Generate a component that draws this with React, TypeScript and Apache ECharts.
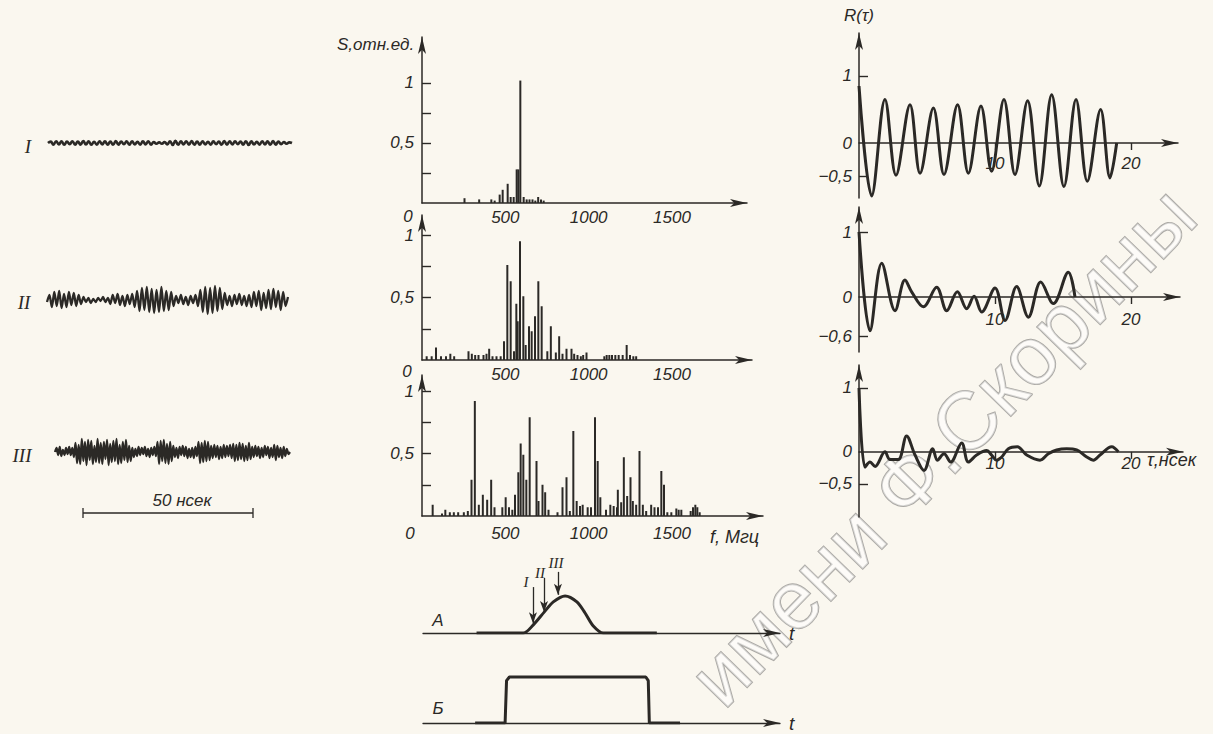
import React, { useEffect, useRef } from 'react';
import * as echarts from 'echarts';

const INK = '#2b2926';
const PAPER = '#faf7ef';
const FONT = "'Liberation Sans', 'DejaVu Sans', sans-serif";
const SERIF = "'Liberation Serif', 'DejaVu Serif', serif";

// ---- Oscillograms (left column), hand-read amplitudes ----
const traceI = [0, 0.7, -0.8, 0.9, -0.7, 0.8, -0.9, 0.7, -0.6, 0.9, -0.8, 0.7, -0.8, 1.0, -0.7, 0.8, -0.9, 0.6, -0.8, 0.9, -0.7, 0.8, -0.8, 0.7, -0.9, 1.0, -0.8, 0.7, -0.6, 0.8, -0.9, 0.9, -0.7, 0.6, -0.8, 0.8, -0.7, 0.9, -0.8, 0.5, -0.4, 0.3, -0.4, 0.5, -0.7, 0.9, -1.0, 1.1, -0.9, 0.8, -0.7, 0.9, -0.8, 1.0, -0.9, 0.7, -0.8, 0.9, -0.7, 0.6, -0.8, 0.8, -0.6, 0.7, -0.9, 1.0, -0.8, 0.9, -0.7, 0.8, -0.6, 0.7, -0.8, 0.9, -1.0, 0.8, -0.7, 0.6, -0.8, 0.9, -0.7, 0.8, -0.9, 1.0, -0.8, 0.7, -0.6, 0.5, -0.4, 0.3, 0];
const traceII = [-2, 5, -7, 8, -6, 9, -8, 6, -7, 8, -5, 7, -6, 5, -4,
  3, -2, 2, -3, 1, -2, 2, -1, 3, -2, 2,
  -4, 5, -3, 6, -5, 4, -6, 5, -4, 6, -7,
  9, -11, 12, -10, 13, -12, 11, -13, 10, -12, 13, -11, 9, -10, 8, -6,
  4, -3, 5, -4, 3, -5, 4, -3, 5, -6,
  10, -12, 13, -14, 12, -13, 14, -11, 12, -9, 7,
  -5, 4, -6, 5, -4, 6, -5, 4, -6, 5, -7,
  8, -6, 9, -10, 7, -8, 10, -9, 11, -7, 9, -10, 8, -6, 3];
const traceIII = [0, 4, -3, 5, -4, 2, -3, 4, -2, 5, -3, 4, -5,
  9, -11, 7, -12, 13, -9, 10, -13, 12, -8, 11, -12, 6, -10, 13, -11, 9, -12, 10, -7, 12, -13, 8, -10, 11, -9, 13, -12, 7, -11, 10, -8, 12, -10, 6, -9,
  4, -5, 3, -4, 5, -3, 4, -2, 5, -4, 3, -5, 4, -3, 5, -4,
  10, -12, 11, -9, 12, -11, 8, -12, 10, -9, 6,
  -5, 4, -6, 5, -3, 6, -4, 5, -6, 3, -5, 4, -6, 5, -4,
  10, -11, 9, -10, 11, -9, 10, -8, 6,
  -6, 7, -5, 6, -7, 5, -6, 7, -5, 6, -4, 7, -6,
  8, -9, 7, -8, 9, -7, 8, -9, 6, -8, 9, -7, 5,
  -5, 6, -4, 5, -6, 4, -5, 6, -3, 5, -6, 4, -5, 7, -8, 6, -5, 4, -6, 5, -4, 3, -2, 0];

// ---- Spectra (middle column): frequency, MHz / amplitude, rel. units ----
const spec1F = [255, 343, 416, 436, 466, 484, 514, 532, 550, 568, 578, 590, 610, 628, 645, 663, 680, 697, 714, 730];
const spec1S = [0.04, 0.03, 0.03, 0.02, 0.07, 0.11, 0.16, 0.05, 0.05, 0.28, 0.28, 1.02, 0.05, 0.03, 0.03, 0.03, 0.02, 0.05, 0.03, 0.02];
const spec2F = [28, 58, 84, 114, 144, 170, 193, 279, 299, 319, 339, 369, 387, 403, 423, 447, 472, 492, 512, 532, 552, 566, 574, 588, 608, 622, 642, 658, 678, 698, 718, 752, 773, 803, 823, 843, 867, 897, 913, 933, 953, 967, 987, 1094, 1108, 1124, 1140, 1160, 1180, 1204, 1228, 1248, 1268, 1285];
const spec2S = [0.03, 0.03, 0.10, 0.03, 0.03, 0.05, 0.03, 0.07, 0.05, 0.04, 0.04, 0.04, 0.05, 0.09, 0.03, 0.03, 0.03, 0.15, 0.76, 0.63, 0.07, 0.45, 0.31, 0.95, 0.51, 0.12, 0.27, 0.23, 0.35, 0.63, 0.43, 0.07, 0.27, 0.06, 0.19, 0.05, 0.09, 0.09, 0.05, 0.04, 0.03, 0.04, 0.06, 0.03, 0.04, 0.04, 0.04, 0.04, 0.04, 0.04, 0.12, 0.04, 0.03, 0.03];
const spec3F = [64, 120, 140, 167, 191, 217, 251, 275, 297, 317, 341, 365, 391, 415, 435, 482, 502, 522, 542, 558, 578, 592, 608, 626, 646, 687, 699, 723, 739, 759, 813, 843, 867, 887, 908, 928, 948, 964, 994, 1014, 1038, 1054, 1070, 1104, 1130, 1150, 1170, 1175, 1195, 1211, 1231, 1251, 1265, 1285, 1305, 1325, 1345, 1375, 1395, 1416, 1436, 1452, 1472, 1496, 1526, 1540, 1556, 1612, 1626, 1640, 1652, 1666];
const spec3S = [0.09, 0.02, 0.05, 0.03, 0.03, 0.03, 0.03, 0.04, 0.29, 0.92, 0.09, 0.17, 0.13, 0.29, 0.07, 0.07, 0.15, 0.07, 0.05, 0.17, 0.35, 0.58, 0.49, 0.29, 0.79, 0.44, 0.12, 0.25, 0.19, 0.05, 0.03, 0.23, 0.31, 0.04, 0.68, 0.12, 0.08, 0.09, 0.07, 0.07, 0.79, 0.44, 0.15, 0.05, 0.09, 0.08, 0.07, 0.21, 0.11, 0.47, 0.16, 0.31, 0.12, 0.09, 0.52, 0.09, 0.04, 0.09, 0.07, 0.07, 0.36, 0.25, 0.03, 0.03, 0.06, 0.05, 0.05, 0.04, 0.07, 0.09, 0.07, 0.03];
const specXTicks = [500, 1000, 1500];
const specYTicks = [0.25, 0.5, 0.75, 1];
const specYLabels = [0.5, 1];

// ---- Autocorrelation (right column): tau, ns / R ----
const r1Tau = [0, 0.93, 1.91, 2.72, 3.75, 4.49, 5.47, 6.25, 7.25, 8.04, 8.97, 9.75, 10.66, 11.47, 12.4, 13.26, 14.17, 15.07, 15.96, 16.79, 17.77, 18.46, 18.95];
const r1Val = [0.85, -0.79, 0.65, -0.48, 0.57, -0.45, 0.52, -0.47, 0.57, -0.45, 0.55, -0.42, 0.65, -0.47, 0.63, -0.64, 0.72, -0.65, 0.65, -0.57, 0.5, -0.52, 0.0];
const r2Tau = [0, 0.81, 1.67, 2.65, 3.38, 3.87, 4.73, 5.71, 6.45, 7.23, 7.92, 8.46, 9.02, 10.0, 10.74, 11.59, 12.45, 13.36, 14.29, 15.39, 15.88];
const r2Val = [1.0, -0.52, 0.52, -0.21, 0.26, 0.08, -0.15, 0.15, -0.21, 0.08, -0.18, 0.01, -0.23, 0.14, -0.36, 0.16, -0.31, 0.23, -0.1, 0.38, 0.0];
const r3Tau = [0, 0.44, 0.81, 1.18, 1.91, 2.28, 2.89, 3.5, 4.12, 4.78, 5.42, 5.76, 6.25, 6.74, 7.55, 8.04, 8.65, 9.39, 9.75, 10.12, 10.49, 10.98, 11.64, 12.33, 13.31, 13.92, 14.53, 15.27, 16.0, 16.74, 17.23, 17.72, 18.58, 19.07];
const r3Val = [1.0, -0.24, -0.16, -0.23, 0, -0.12, -0.12, 0.25, -0.05, -0.29, 0.05, -0.13, -0.03, -0.16, 0.14, -0.16, -0.05, 0.02, -0.05, -0.13, -0.08, 0.05, 0.08, -0.05, -0.13, -0.03, 0.03, 0.05, 0.03, -0.08, -0.13, -0.05, 0.08, 0];
const rXTicks = [10, 20];

// ---- Pulse envelopes (bottom) ----
const pulseAT = [15, 28.1, 30.9, 34.0, 36.5, 39.8, 43.1, 45.4, 47.7, 50.5, 65.5];
const pulseAV = [0, 0, 0.22, 0.57, 0.84, 1, 0.84, 0.54, 0.19, 0, 0];
const pulseBT = [14.6, 23.0, 23.4, 24.2, 62.4, 63.1, 63.4, 72.0];
const pulseBV = [0, 0, 0.92, 1, 1, 0.92, 0, 0];
const markerT = [30.8, 33.9, 37.8];
const markerTop = [1.24, 1.49, 1.65];
const markerBottom = [0.26, 0.57, 1.03];
const markerLabels = ['I', 'II', 'III'];

const zip = (a: number[], b: number[]) => a.map((v, i) => [v, b[i]]);
const comma = (v: number) => (v < 0 ? '−' : '') + String(Math.abs(v)).replace('.', ',');

const labelStyle = (size: number, margin: number) => ({
  color: INK, fontFamily: FONT, fontStyle: 'italic', fontSize: size, margin,
});
const arrowLine = (w = 1.4) => ({
  show: true, symbol: ['none', 'arrow'], symbolSize: [6, 17],
  lineStyle: { color: INK, width: w },
});

function txt(x: number, y: number, text: string, size = 17, align = 'left', family = FONT, extra: any = {}) {
  return {
    type: 'text', x, y, z: 10,
    style: {
      text, fill: INK, font: `italic ${size}px ${family}`,
      textAlign: align, align, textVerticalAlign: 'middle', verticalAlign: 'middle', ...extra,
    },
  };
}

function buildOption() {
  const grid: any[] = [
    { left: 48, top: 135, width: 244, height: 16 },   // 0 trace I
    { left: 47, top: 280, width: 241, height: 40 },   // 1 trace II
    { left: 55, top: 432, width: 235, height: 40 },   // 2 trace III
    { left: 422, top: 37, width: 325, height: 166 },  // 3 spectrum 1
    { left: 422, top: 215, width: 330, height: 145 }, // 4 spectrum 2
    { left: 422, top: 375, width: 341, height: 141 }, // 5 spectrum 3
    { left: 859, top: 33, width: 319, height: 165 },  // 6 R1
    { left: 859, top: 207, width: 321, height: 145 }, // 7 R2
    { left: 859, top: 365, width: 324, height: 152 }, // 8 R3
    { left: 423, top: 553, width: 357, height: 80 },  // 9 A
    { left: 423, top: 663, width: 357, height: 60 },  // 10 Б
  ];
  const xAxis: any[] = [];
  const yAxis: any[] = [];
  const series: any[] = [];

  // traces
  [traceI, traceII, traceIII].forEach((tr, i) => {
    xAxis.push({ gridIndex: i, type: 'category', show: false, boundaryGap: false, data: tr.map((_, k) => k) });
    const r = i === 0 ? 4 : 20;
    yAxis.push({ gridIndex: i, type: 'value', show: false, min: -r, max: r });
    series.push({
      type: 'line', xAxisIndex: i, yAxisIndex: i, data: tr, showSymbol: false,
      smooth: i === 0 ? 0.5 : 0.25, lineStyle: { color: INK, width: i === 0 ? 2.6 : 2.3 },
    });
  });

  // spectra
  const specs = [[spec1F, spec1S, 1950, 1.383, 6], [spec2F, spec2S, 1980, 1.16, 6], [spec3F, spec3S, 2046, 1.128, 9]] as any[];
  specs.forEach(([f, s, xmax, ymax, lm], k) => {
    const gi = 3 + k;
    xAxis.push({
      gridIndex: gi, type: 'value', min: 0, max: xmax, axisLine: arrowLine(1.5),
      axisTick: { show: false }, splitLine: { show: false },
      axisLabel: { ...labelStyle(17, lm), customValues: specXTicks, formatter: (v: number) => String(v) },
    });
    yAxis.push({
      gridIndex: gi, type: 'value', min: 0, max: ymax, axisLine: arrowLine(1.5),
      axisTick: { show: true, inside: true, length: 9, customValues: specYTicks, lineStyle: { color: INK, width: 1.4 } },
      splitLine: { show: false },
      axisLabel: { ...labelStyle(17, 8), customValues: specYLabels, formatter: comma },
    });
    series.push({
      type: 'bar', xAxisIndex: gi, yAxisIndex: gi, data: zip(f, s), barWidth: 2,
      itemStyle: { color: INK }, silent: true,
    });
  });

  // autocorrelation
  const rHeights = [165, 145, 152];
  const rs = [
    [r1Tau, r1Val, 23.46, -0.82, 1.64, [1, -0.5], [1, 0, -0.5], 12],
    [r2Tau, r2Val, 23.6, -0.846, 1.385, [1, -0.6], [1, 0, -0.6], 14],
    [r3Tau, r3Val, 23.82, -1.02, 1.36, [1, -0.5], [1, 0, -0.5], 3],
  ] as any[];
  rs.forEach(([t, v, xmax, ymin, ymax, yt, yl, xm], k) => {
    const gi = 6 + k;
    const zeroOffset = -rHeights[k] * (-ymin) / (ymax - ymin);
    xAxis.push({
      gridIndex: gi, type: 'value', min: 0, max: xmax, position: 'bottom', offset: zeroOffset,
      axisLine: { ...arrowLine(1.5), onZero: false },
      axisTick: { show: true, length: 7, customValues: rXTicks, lineStyle: { color: INK, width: 1.4 } },
      splitLine: { show: false },
      axisLabel: { ...labelStyle(17, xm), customValues: rXTicks, formatter: (x: number) => String(x) },
    });
    yAxis.push({
      gridIndex: gi, type: 'value', min: ymin, max: ymax, axisLine: { ...arrowLine(1.5), onZero: false },
      axisTick: { show: true, inside: true, length: 9, customValues: yt, lineStyle: { color: INK, width: 1.4 } },
      splitLine: { show: false },
      axisLabel: { ...labelStyle(17, 7), customValues: yl, formatter: comma },
      ...(k === 0 ? { name: 'R(τ)', nameLocation: 'end', nameGap: 9, nameTextStyle: { color: INK, fontFamily: FONT, fontStyle: 'italic', fontSize: 17, align: 'center' } } : {}),
    });
    series.push({
      type: 'line', xAxisIndex: gi, yAxisIndex: gi, data: zip(t, v), showSymbol: false,
      smooth: 0.35, lineStyle: { color: INK, width: 3 },
    });
  });

  // pulses
  [[pulseAT, pulseAV, 2.16], [pulseBT, pulseBV, 1.304]].forEach(([t, v, ymax]: any, k) => {
    const gi = 9 + k;
    xAxis.push({
      gridIndex: gi, type: 'value', min: 0, max: 100, axisLine: arrowLine(1.3),
      axisTick: { show: false }, axisLabel: { show: false }, splitLine: { show: false },
      name: 't', nameLocation: 'end', nameGap: 9,
      nameTextStyle: { color: INK, fontFamily: FONT, fontStyle: 'italic', fontSize: 19, verticalAlign: 'middle' },
    });
    yAxis.push({ gridIndex: gi, type: 'value', show: false, min: 0, max: ymax });
    const s: any = {
      type: 'line', xAxisIndex: gi, yAxisIndex: gi, data: zip(t, v), showSymbol: false,
      smooth: k === 0 ? 0.3 : false, lineStyle: { color: INK, width: 3 },
    };
    if (k === 0) {
      s.markLine = {
        silent: true, symbol: ['none', 'arrow'], symbolSize: [6, 11],
        lineStyle: { color: INK, width: 1.3, type: 'solid' }, label: { show: false },
        data: markerT.map((m, i) => [{ coord: [m, markerTop[i]] }, { coord: [m, markerBottom[i]] }]),
      };
    }
    series.push(s);
  });

  const graphic: any[] = [
    {
      type: 'text', x: 942, y: 446, rotation: 0.8, z: 0, silent: true,
      style: {
        text: 'имени Ф.Скорины', font: `82px ${FONT}`, fill: 'rgba(255,255,255,0.55)',
        stroke: '#aaa8a4', lineWidth: 1.8, textAlign: 'center', align: 'center',
        textVerticalAlign: 'middle', verticalAlign: 'middle',
      },
    },
    txt(337, 44, 'S,отн.ед.', 17),
    txt(408, 216, '0', 17, 'center'),
    txt(407, 371, '0', 17, 'center'),
    txt(410, 533, '0', 17, 'center'),
    txt(710, 537, 'f, Мгц', 18),
    txt(1147, 460, 'τ,нсек', 18),
    txt(28, 146, 'I', 19, 'center', SERIF),
    txt(24, 302, 'II', 19, 'center', SERIF),
    txt(22, 455, 'III', 19, 'center', SERIF),
    txt(182, 500, '50 нсек', 17, 'center'),
    txt(438, 620, 'А', 17, 'center'),
    txt(438, 708, 'Б', 17, 'center'),
    ...markerLabels.map((l, i) => txt([526, 540, 556][i], [582, 573, 563][i], l, 15, 'center', SERIF)),
    { type: 'line', shape: { x1: 83, y1: 513, x2: 253, y2: 513 }, style: { stroke: INK, lineWidth: 1.3 } },
    { type: 'line', shape: { x1: 83, y1: 508, x2: 83, y2: 518 }, style: { stroke: INK, lineWidth: 1.3 } },
    { type: 'line', shape: { x1: 253, y1: 508, x2: 253, y2: 518 }, style: { stroke: INK, lineWidth: 1.3 } },
  ];

  return { animation: false, backgroundColor: PAPER, grid, xAxis, yAxis, series, graphic };
}

export default function App() {
  const ref = useRef<HTMLDivElement>(null);
  useEffect(() => {
    if (!ref.current) return;
    const chart = echarts.init(ref.current, null, { renderer: 'svg' });
    chart.setOption(buildOption() as any);
    return () => chart.dispose();
  }, []);
  return <div ref={ref} style={{ position: 'absolute', left: 0, top: 0, width: 1213, height: 734 }} />;
}
